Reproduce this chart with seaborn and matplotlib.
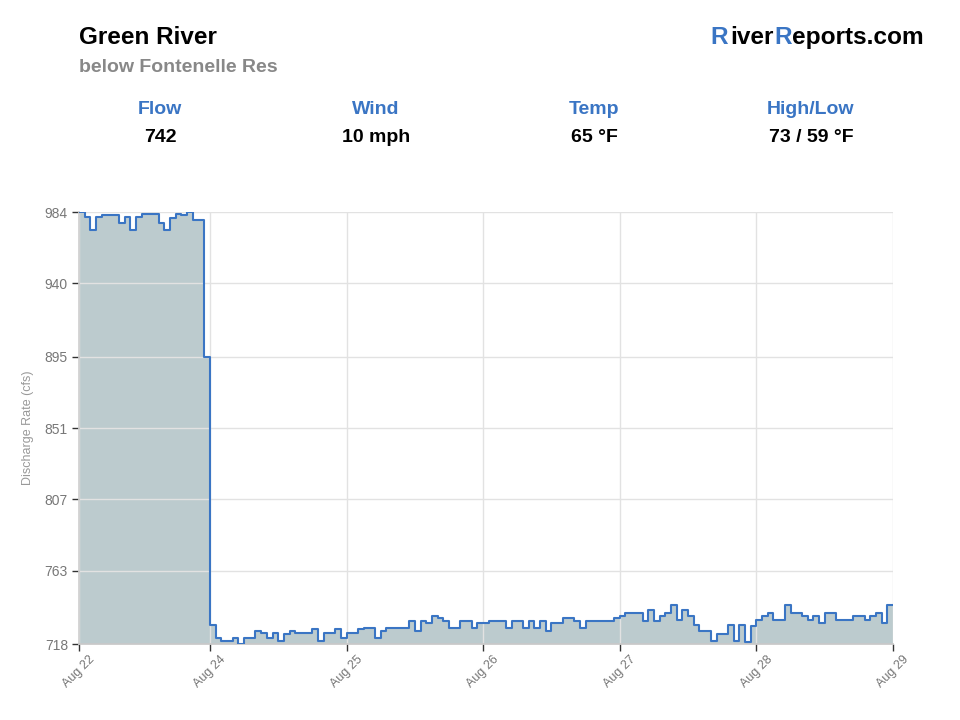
import matplotlib
matplotlib.use("Agg")
import matplotlib.pyplot as plt
import seaborn as sns
import pandas as pd

BLUE = "#3a75c4"
FILL = "#bccbce"
GRID = "#e2e2e2"

# hourly readings, hour 0 = first reading of the window
hours = list(range(144))
flow = [
    984, 981, 973, 981, 982, 982, 982, 977, 981, 973, 981, 983,
    983, 983, 977, 973, 980, 983, 982, 984, 979, 979, 895, 730,
    722, 720, 720, 722, 718, 722, 722, 726, 725, 722, 725, 720,
    724, 726, 725, 725, 725, 727, 720, 725, 725, 727, 722, 725,
    725, 727, 728, 728, 722, 726, 728, 728, 728, 728, 732, 726,
    732, 731, 735, 734, 732, 728, 728, 732, 732, 728, 731, 731,
    732, 732, 732, 728, 732, 732, 728, 732, 728, 732, 726, 731,
    731, 734, 734, 732, 728, 732, 732, 732, 732, 732, 734, 735,
    737, 737, 737, 732, 739, 732, 735, 737, 742, 733, 739, 735,
    730, 726, 726, 720, 724, 724, 730, 720, 730, 719, 729, 733,
    735, 737, 733, 733, 742, 737, 737, 735, 733, 735, 731, 737,
    737, 733, 733, 733, 735, 735, 733, 735, 737, 731, 742, 742,
]

date_ticks = [0, 23, 47, 71, 95, 119, 143]
date_labels = ["Aug 22", "Aug 24", "Aug 25", "Aug 26", "Aug 27", "Aug 28", "Aug 29"]
flow_ticks = [718, 763, 807, 851, 895, 940, 984]

stat_names = ["Flow", "Wind", "Temp", "High/Low"]
stat_values = ["742", "10 mph", "65 °F", "73 / 59 °F"]

df = pd.DataFrame({"hour": hours, "flow": flow})

sns.set_theme(style="white")
plt.rcParams["font.family"] = ["Liberation Sans", "DejaVu Sans"]

fig = plt.figure(figsize=(9.6, 7.2), dpi=100)
ax = fig.add_axes([79 / 960, 76 / 720, 814 / 960, 432 / 720])

ax.fill_between(df["hour"], df["flow"], flow_ticks[0], step="post",
                color=FILL, linewidth=0, zorder=1)
sns.lineplot(data=df, x="hour", y="flow", drawstyle="steps-post",
             color=BLUE, linewidth=1.5, ax=ax, zorder=3)

ax.set_xlim(date_ticks[0], date_ticks[-1])
ax.set_ylim(flow_ticks[0], flow_ticks[-1])
ax.set_xticks(date_ticks)
ax.set_xticklabels(date_labels, rotation=45, ha="center", va="top")
ax.set_yticks(flow_ticks)
ax.set_yticklabels([str(v) for v in flow_ticks])

ax.set_axisbelow("line")
ax.grid(True, color=GRID, linewidth=1)
for side in ["top", "right"]:
    ax.spines[side].set_visible(False)
ax.spines["left"].set_color("#d0d0d0")
ax.spines["bottom"].set_color("#c8c8c8")
ax.tick_params(axis="both", which="major", length=5, width=1, color="#333333",
               bottom=True, left=True, labelcolor="#777777")
ax.tick_params(axis="x", labelsize=9, pad=2)
ax.tick_params(axis="y", labelsize=10, pad=3)

ax.set_xlabel("")
ax.set_ylabel("Discharge Rate (cfs)", color="#999999", fontsize=9, labelpad=8)

# header
fig.text(79 / 960, 1 - 38 / 720, "Green River", fontsize=17.5, fontweight="bold",
         color="black", va="center", ha="left")
fig.text(79 / 960, 1 - 68 / 720, "below Fontenelle Res", fontsize=14,
         fontweight="bold", color="#888888", va="center", ha="left")

# site name with the two blue R's, laid out piece by piece on one baseline
renderer = fig.canvas.get_renderer()
pieces = [("R", BLUE), ("iver", "black"), ("R", BLUE), ("eports.com", "black")]
gaps = [0, 3, 0, 0]
x_px = 710
for (word, col), gap in zip(pieces, gaps):
    x_px += gap
    t = fig.text(x_px / 960, 1 - 44 / 720, word, fontsize=17.6, fontweight="bold",
                 color=col, va="baseline", ha="left")
    x_px = t.get_window_extent(renderer).x1

stat_x = [160, 376, 594, 811]
for x, name, val in zip(stat_x, stat_names, stat_values):
    fig.text(x / 960, 1 - 109 / 720, name, fontsize=14, fontweight="bold",
             color=BLUE, ha="center", va="center")
    fig.text(x / 960, 1 - 137 / 720, val, fontsize=14, fontweight="bold",
             color="black", ha="center", va="center")

fig.savefig("out.png", dpi=100)
